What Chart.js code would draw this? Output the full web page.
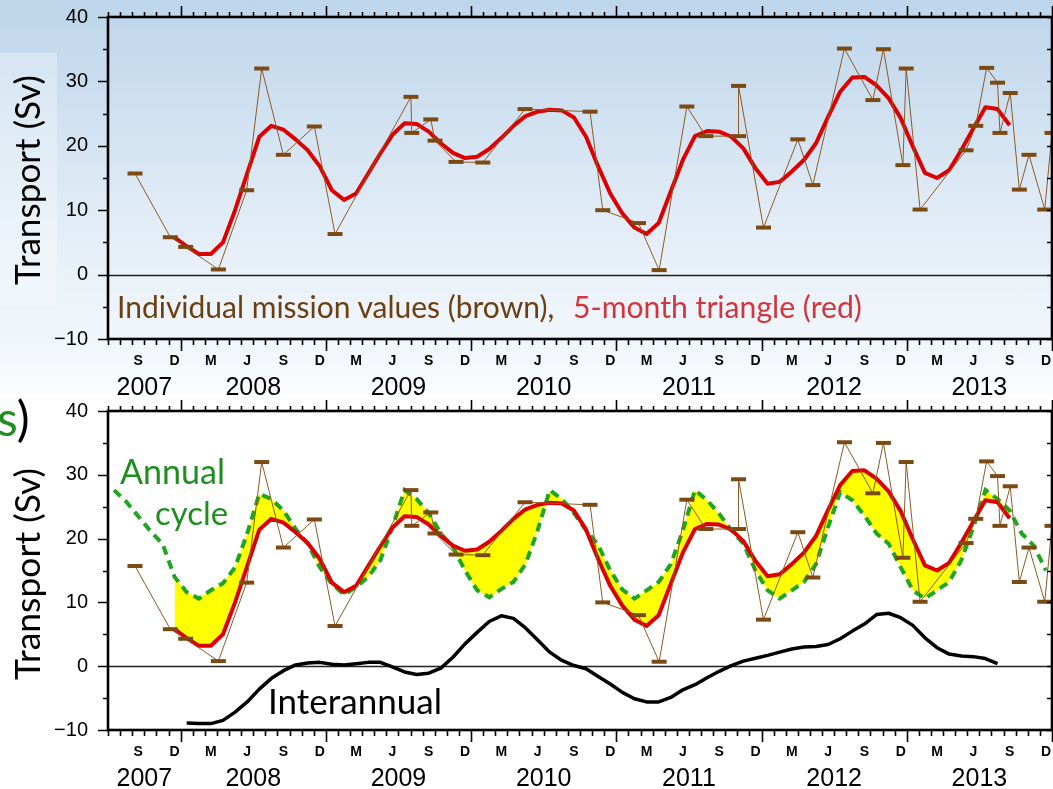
<!DOCTYPE html>
<html>
<head>
<meta charset="utf-8">
<title>Transport (Sv)</title>
<script src="https://cdn.jsdelivr.net/npm/chart.js@4.4.1/dist/chart.umd.min.js"></script>
<style>
  html, body { margin: 0; padding: 0; }
  body {
    width: 1053px; height: 789px; position: relative; overflow: hidden;
    background: linear-gradient(to bottom, #bdd5ea 0px, #c8dcee 70px, #d8e6f3 160px, #e6eff8 250px, #f1f6fb 340px, #fafcfe 392px, #ffffff 396px);
  }
  canvas { position: absolute; left: 0; }
  #topChart { top: 0; }
  #bottomChart { top: 395px; }
  .lbl { position: absolute; white-space: nowrap; font-family: Lato, "Open Sans", sans-serif; line-height: 1; transform: translateY(-50%); }
  .rot { transform: translate(-50%, -50%) rotate(-90deg); }
  #axisBox { position: absolute; left: 0; top: 53px; width: 57px; height: 252px; background: rgba(255,255,255,0.3); }
</style>
</head>
<body>
<div id="axisBox"></div>
<canvas id="topChart" width="1053" height="395"></canvas>
<canvas id="bottomChart" width="1053" height="394"></canvas>

<div class="lbl rot" id="ytTop" data-w="210" style="left:27px; top:180px; color:#000;">Transport (Sv)</div>
<div class="lbl rot" id="ytBottom" data-w="212" style="left:27px; top:574px; color:#000;">Transport (Sv)</div>
<div class="lbl" id="note1" data-w="438" style="left:117px; top:306px; color:#6b3f0f;">Individual mission values (brown),</div>
<div class="lbl" id="note2" data-w="289" style="left:573px; top:306px; color:#d2363c;">5-month triangle (red)</div>
<div class="lbl" id="annual" data-w="105" style="left:120px; top:471px; color:#1e8e1e;">Annual</div>
<div class="lbl" id="cycle" data-w="73" style="left:155px; top:513px; color:#1e8e1e;">cycle</div>
<div class="lbl" id="inter" data-w="174" style="left:268px; top:701px; color:#000;">Interannual</div>
<div class="lbl" id="titleEnd" style="left:-3px; top:418px; font-size:48px;"><span style="color:#1e8e1e;">s</span><span style="color:#000;">)</span></div>

<script>
// x axis runs in months from 1 Jul 2007 (0) to 1 Jan 2014 (78); month k is centred on k + 0.5

// individual mission values (brown)
const missionMonths = [2.23, 5.15, 6.42, 9.12, 11.46, 12.7, 14.49, 17.05, 18.76,
  25.03, 25.1, 26.67, 27.02, 28.76, 30.97, 34.46, 39.83, 40.88, 43.83, 45.54, 47.83,
  49.4, 52.1, 52.1, 54.16, 57.0, 58.24, 60.85, 63.2, 64.07, 65.68, 65.95, 67.1,
  70.9, 71.7, 72.6, 73.5, 73.7, 74.55, 75.3, 76.1, 77.4, 78.0];
const missionValues = [15.7, 5.8, 4.3, 0.8, 13.1, 32.0, 18.6, 23.0, 6.3,
  27.6, 22.0, 24.1, 20.8, 17.5, 17.4, 25.7, 25.3, 10.0, 8.0, 0.7, 26.1,
  21.5, 21.5, 29.3, 7.3, 21.0, 13.9, 35.1, 27.1, 35.0, 17.0, 32.0, 10.1,
  19.3, 23.1, 32.1, 29.8, 22.0, 28.2, 13.2, 18.6, 10.1, 22.0];

// 5-month triangle filter (red), monthly from Dec 2007
const triangleStart = 5;
const triangleValues = [5.8, 4.4, 3.2, 3.2, 5.0, 10.0, 15.7, 21.4, 23.1, 22.5, 21.0, 19.3,
  16.8, 13.1, 11.6, 12.6, 15.7, 18.8, 21.7, 23.5, 23.4, 22.2, 20.4, 18.9,
  18.1, 18.3, 19.5, 21.2, 23.1, 24.6, 25.3, 25.6, 25.5, 24.4, 21.4, 16.8,
  12.6, 9.5, 7.3, 6.3, 8.0, 12.9, 17.8, 21.5, 22.3, 22.2, 21.4, 19.6,
  16.5, 14.1, 14.4, 16.0, 17.8, 20.4, 24.5, 28.4, 30.6, 30.7, 29.4, 27.4,
  24.3, 19.9, 15.8, 15.0, 16.2, 19.3, 22.7, 26.0, 25.7, 23.2];

// annual cycle (green dashed), monthly from Jul 2007
const annualStart = 0;
const annualValues = [27.6, 25.8, 23.5, 21.2, 19.2, 14.0, 11.6, 10.6, 11.9, 13.0, 15.5, 20.8,
  27.0, 26.2, 24.4, 21.5, 19.2, 15.5, 12.9, 11.2, 12.4, 14.0, 16.6, 21.8,
  27.6, 26.2, 24.0, 20.8, 18.7, 15.0, 11.9, 10.8, 12.1, 13.2, 16.0, 21.3,
  27.6, 26.2, 24.0, 21.3, 19.0, 15.0, 12.0, 10.6, 11.9, 13.2, 16.0, 21.3,
  27.6, 26.0, 23.9, 21.3, 19.2, 15.0, 11.9, 10.6, 11.9, 13.2, 16.0, 21.8,
  27.3, 26.0, 23.6, 20.8, 19.2, 15.5, 11.9, 10.6, 11.9, 13.2, 16.6, 21.8,
  27.6, 26.2, 24.4, 20.8, 18.9, 15.0];

// interannual (black), monthly from Jan 2008
const interStart = 6;
const interValues = [-8.9, -9.0, -9.0, -8.5, -7.2, -5.6, -3.6, -1.9, -0.7, 0.2, 0.5, 0.6,
  0.3, 0.2, 0.4, 0.6, 0.6, -0.1, -0.9, -1.3, -1.1, -0.3, 1.4, 3.5,
  5.3, 7.0, 7.9, 7.5, 6.0, 4.1, 2.2, 0.9, 0.1, -0.4, -1.6, -2.8,
  -4.1, -5.1, -5.6, -5.6, -4.9, -3.7, -2.9, -1.8, -0.8, 0.1, 0.8, 1.25,
  1.7, 2.2, 2.7, 3.0, 3.1, 3.4, 4.3, 5.5, 6.6, 8.1, 8.3, 7.6,
  6.4, 4.45, 2.9, 1.9, 1.6, 1.5, 1.2, 0.4];

// axis labels
const monthTickLabels = ['S','D','M','J','S','D','M','J','S','D','M','J','S','D',
  'M','J','S','D','M','J','S','D','M','J','S','D'];   // Sep 2007 .. Dec 2013
const yearLabels = ['2007','2008','2009','2010','2011','2012','2013'];
const yTicks = [-10, 0, 10, 20, 30, 40];

const xMin = 0, xMax = 78;
const monthTickPos = monthTickLabels.map((_, i) => 2.5 + 3 * i);
const yearTickPos = yearLabels.map((_, i) => i === 0 ? 3 : 12 * i);

const toPoints = (start, vals) => vals.map((v, i) => ({ x: start + i + 0.5, y: v }));
const missionPoints = missionMonths.map((m, i) => ({ x: m, y: missionValues[i] }));
const trianglePoints = toPoints(triangleStart, triangleValues);
const annualPoints = toPoints(annualStart, annualValues);
const interPoints = toPoints(interStart, interValues);
// part of the annual cycle that overlaps the filtered series, used as the yellow fill edge
const overlapPoints = annualPoints.filter(p => p.x >= trianglePoints[0].x && p.x <= trianglePoints[trianglePoints.length - 1].x);

Chart.defaults.font.family = '"Liberation Sans", Arial, sans-serif';
Chart.defaults.color = '#000';

// invisible tick marks are used only to push the labels away from the frame
const spacer = len => ({ display: true, drawOnChartArea: false, drawTicks: true, tickLength: len, tickColor: 'rgba(0,0,0,0)' });
// fixed axis boxes so the plot frame lands where it is in the original
const fixHeight = h => s => { s.height = h; s.paddingLeft = 0; s.paddingRight = 0; };

// frame, tick marks and zero line in the style of the original plot
const framePlugin = {
  id: 'frame',
  beforeDatasetsDraw(chart) {
    const { ctx, chartArea: a, scales } = chart;
    const y0 = Math.round(scales.y.getPixelForValue(0)) + 0.5;
    ctx.save();
    ctx.strokeStyle = '#222';
    ctx.lineWidth = 1.3;
    ctx.beginPath();
    ctx.moveTo(a.left, y0);
    ctx.lineTo(a.right, y0);
    ctx.stroke();
    ctx.restore();
  },
  afterDatasetsDraw(chart) {
    const { ctx, chartArea: a, scales } = chart;
    ctx.save();
    ctx.strokeStyle = '#000';
    ctx.lineWidth = 1.6;
    ctx.beginPath();
    for (let m = xMin; m <= xMax; m++) {
      const px = Math.round(scales.x.getPixelForValue(m)) + 0.5;
      const len = (m % 12 === 6) ? 11 : 5;
      ctx.moveTo(px, a.bottom); ctx.lineTo(px, a.bottom + len + 1);
      ctx.moveTo(px, a.top); ctx.lineTo(px, a.top - len);
    }
    for (let v = -10; v <= 40; v += 5) {
      const py = Math.round(scales.y.getPixelForValue(v)) + 0.5;
      ctx.moveTo(a.left, py); ctx.lineTo(a.left - (v % 10 === 0 ? 10 : 5), py);
      ctx.moveTo(a.right, py); ctx.lineTo(a.right - 5, py);
    }
    ctx.stroke();
    ctx.lineWidth = 2.6;
    ctx.strokeRect(a.left, a.top, a.right - a.left, a.bottom - a.top);
    ctx.restore();
  }
};

function buildChart(canvasId, decomposition, padTop, yearHeight) {
  const datasets = [
    {
      label: 'Individual mission values',
      data: missionPoints,
      borderColor: '#8c5a24',
      borderWidth: 1,
      pointStyle: 'line',
      pointRadius: 7.5,
      pointBorderWidth: 4,
      pointBorderColor: '#7b4a13',
      pointBackgroundColor: '#7b4a13',
      tension: 0,
      fill: false
    },
    {
      label: '5-month triangle',
      data: trianglePoints,
      borderColor: '#dd0000',
      borderWidth: 4,
      borderJoinStyle: 'round',
      pointRadius: 0,
      tension: 0,
      fill: decomposition ? { target: 4, above: '#ffff00', below: '#ffff00' } : false,
      backgroundColor: '#ffff00'
    }
  ];
  if (decomposition) {
    datasets.push({
      label: 'Annual cycle',
      data: annualPoints,
      borderColor: '#1fa51f',
      borderWidth: 4,
      borderDash: [9, 6],
      pointRadius: 0,
      tension: 0,
      fill: false
    });
    datasets.push({
      label: 'Interannual',
      data: interPoints,
      borderColor: '#000',
      borderWidth: 3.5,
      borderJoinStyle: 'round',
      pointRadius: 0,
      tension: 0,
      fill: false
    });
    datasets.push({
      label: 'overlap',
      data: overlapPoints,
      borderColor: 'rgba(0,0,0,0)',
      borderWidth: 0,
      pointRadius: 0,
      tension: 0,
      fill: false
    });
  }

  return new Chart(document.getElementById(canvasId), {
    type: 'line',
    data: { datasets },
    plugins: [framePlugin],
    options: {
      responsive: false,
      animation: false,
      events: [],
      layout: { autoPadding: false, padding: { left: 0, right: 1, top: padTop, bottom: 0 } },
      plugins: {
        legend: { display: false },
        tooltip: { enabled: false },
        filler: { drawTime: 'beforeDatasetsDraw' }
      },
      scales: {
        x: {
          type: 'linear', position: 'bottom', min: xMin, max: xMax, weight: 0,
          grid: spacer(14),
          border: { display: false },
          afterBuildTicks: s => { s.ticks = monthTickPos.map(v => ({ value: v })); },
          afterFit: fixHeight(34),
          ticks: {
            autoSkip: false, maxRotation: 0, padding: 0,
            font: { size: 14, weight: 'bold' },
            callback: (v, i) => monthTickLabels[i]
          }
        },
        xYear: {
          type: 'linear', position: 'bottom', min: xMin, max: xMax, weight: 1,
          grid: { display: false, drawTicks: false },
          border: { display: false },
          afterBuildTicks: s => { s.ticks = yearTickPos.map(v => ({ value: v })); },
          afterFit: fixHeight(yearHeight),
          ticks: {
            autoSkip: false, maxRotation: 0, padding: 0,
            font: { size: 25 },
            callback: (v, i) => yearLabels[i]
          }
        },
        y: {
          type: 'linear', position: 'left', min: -10, max: 40,
          grid: spacer(20),
          border: { display: false },
          afterBuildTicks: s => { s.ticks = yTicks.map(v => ({ value: v })); },
          afterFit: s => { s.width = 108; s.paddingTop = 0; s.paddingBottom = 0; },
          ticks: {
            padding: 0,
            font: { size: 20 },
            callback: v => v < 0 ? '\u2212' + Math.abs(v) : String(v)
          }
        }
      }
    }
  });
}

buildChart('topChart', false, 17, 22);
buildChart('bottomChart', true, 16, 25);

// size the annotation texts to the widths they take in the original slide
const measureCtx = document.createElement('canvas').getContext('2d');
document.querySelectorAll('.lbl[data-w]').forEach(el => {
  measureCtx.font = '100px Lato';
  const w = measureCtx.measureText(el.textContent).width;
  el.style.fontSize = (100 * Number(el.dataset.w) / w).toFixed(2) + 'px';
});
</script>
</body>
</html>
